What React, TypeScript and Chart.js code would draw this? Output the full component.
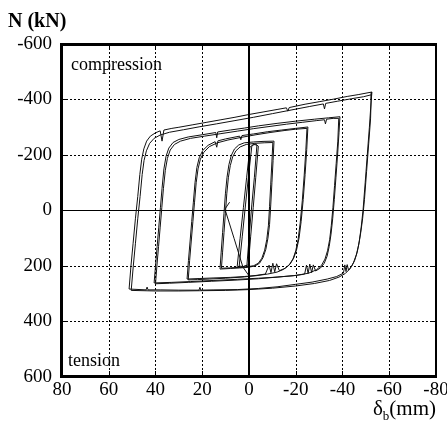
import React, { useEffect, useRef } from "react";
import { Chart, registerables } from "chart.js";

Chart.register(...registerables);

const FONT = "'Liberation Serif', 'Times New Roman', serif";

const xTickValues = [80, 60, 40, 20, 0, -20, -40, -60, -80];
const yTickValues = [-600, -400, -200, 0, 200, 400, 600];

// Largest amplitude (~52 mm), first cycle
const loop4aDisp = [51.3, 50.5, 49.6, 48.6, 47.6, 46.7, 45.9, 45.0, 43.8, 42.2, 40.0, 38.0, 37.2, 36.4, 33.0, 30.0, 24.0, 18.0, 12.0, 6.0, 0.0, -6.0, -12.0, -16.0, -16.6, -17.2, -24.0, -30.0, -36.0, -42.0, -47.0, -52.6,
  -52.3, -51.5, -50.6, -49.7, -48.8, -48.0, -47.2, -46.3, -45.2, -44.0, -42.6, -42.0, -41.5, -41.0, -40.4, -37.5, -33.5, -27.0, -20.0, -12.0, -4.0, 5.0, 15.0, 20.6, 21.0, 21.4, 30.0, 38.0, 43.2, 43.6, 44.0, 51.3];
const loop4aForce = [283, 200, 120, 30, -50, -130, -185, -222, -250, -268, -280, -287, -250, -290, -296, -300, -309, -318, -327, -336, -346, -355, -364, -370, -358, -371, -383, -392, -401, -411, -418, -427,
  -400, -300, -200, -100, -2, 60, 110, 150, 180, 200, 215, 195, 220, 196, 226, 238, 247, 258, 266, 275, 281, 285, 286, 287, 277, 287, 287, 286, 286, 276, 286, 283];

// Largest amplitude, second cycle
const loop4bDisp = [50.4, 49.5, 48.6, 47.6, 46.6, 45.7, 44.9, 43.9, 42.5, 40.6, 38.0, 34.0, 28.0, 21.0, 14.0, 6.0, -2.0, -10.0, -18.0, -26.0, -31.8, -32.3, -32.8, -38.0, -44.0, -49.0, -52.3,
  -52.0, -51.2, -50.3, -49.4, -48.6, -47.8, -46.9, -45.9, -44.7, -43.2, -41.2, -38.5, -34.5, -28.0, -20.0, -10.0, 0.0, 10.0, 20.0, 30.0, 40.0, 50.4];
const loop4bForce = [288, 200, 120, 30, -50, -130, -180, -215, -242, -260, -272, -282, -291, -302, -312, -324, -336, -349, -362, -375, -384, -366, -386, -394, -403, -410, -417,
  -330, -240, -140, -40, 30, 80, 125, 160, 188, 210, 227, 240, 252, 263, 272, 280, 285, 288, 289, 290, 290, 288];

// Amplitude ~39 mm
const loop3aDisp = [40.6, 40.0, 39.3, 38.6, 37.9, 37.2, 36.4, 35.5, 34.3, 32.5, 30.0, 26.0, 20.0, 14.2, 13.8, 13.4, 8.0, 2.0, -4.0, -12.0, -20.0, -28.0, -34.0, -38.9,
  -38.5, -37.9, -37.2, -36.5, -35.8, -35.1, -34.3, -33.4, -32.2, -30.6, -28.5, -27.5, -26.8, -26.0, -25.3, -24.6, -23.8, -22.5, -19.0, -12.0, -4.0, 5.0, 15.0, 25.0, 33.0, 40.6];
const loop3aForce = [261, 200, 130, 60, -10, -80, -150, -195, -225, -245, -256, -265, -273, -281, -262, -283, -290, -297, -305, -314, -322, -329, -334, -338,
  -280, -200, -120, -40, 30, 85, 130, 165, 190, 207, 218, 196, 224, 193, 227, 197, 229, 231, 235, 240, 244, 248, 252, 256, 259, 261];

const loop3bDisp = [40.0, 39.4, 38.7, 38.0, 37.3, 36.6, 35.8, 34.9, 33.7, 31.9, 29.3, 25.0, 19.0, 12.0, 5.0, -2.0, -9.0, -16.0, -23.0, -29.0, -32.3, -32.7, -33.2, -36.0, -38.4,
  -38.0, -37.3, -36.6, -35.9, -35.2, -34.5, -33.6, -32.5, -31.0, -28.8, -25.5, -20.0, -12.0, -4.0, 6.0, 16.0, 26.0, 34.0, 40.0];
const loop3bForce = [264, 200, 130, 60, -10, -80, -145, -188, -218, -238, -250, -260, -268, -277, -286, -295, -303, -311, -318, -324, -327, -312, -329, -332, -332,
  -250, -170, -90, -10, 55, 105, 145, 175, 198, 214, 226, 234, 240, 246, 251, 255, 259, 262, 264];

// Amplitude ~25 mm
const loop2aDisp = [26.5, 25.9, 25.2, 24.5, 23.8, 23.1, 22.3, 21.3, 19.8, 17.5, 14.5, 13.8, 13.3, 10.0, 4.0, 3.5, 3.0, -2.0, -8.0, -14.0, -20.0, -25.2,
  -24.7, -24.0, -23.2, -22.3, -21.4, -20.4, -19.2, -17.6, -15.5, -13.0, -11.8, -11.0, -10.2, -9.4, -8.6, -7.0, -3.0, 2.0, 8.0, 15.0, 21.0, 26.5];
const loop2aForce = [247, 180, 110, 40, -30, -100, -155, -190, -216, -235, -248, -228, -251, -258, -268, -255, -270, -276, -284, -290, -296, -301,
  -220, -130, -40, 40, 100, 140, 170, 193, 208, 217, 192, 221, 190, 224, 197, 229, 234, 238, 241, 243, 245, 247];

const loop2bDisp = [26.0, 25.4, 24.7, 24.0, 23.3, 22.6, 21.8, 20.8, 19.3, 17.0, 13.5, 9.0, 3.0, -3.0, -9.0, -15.0, -20.0, -24.8,
  -24.3, -23.6, -22.8, -21.9, -21.0, -20.0, -18.8, -17.1, -14.8, -12.0, -8.0, -3.0, 3.0, 10.0, 17.0, 22.0, 26.0];
const loop2bForce = [250, 180, 110, 40, -30, -100, -150, -185, -210, -230, -244, -254, -264, -273, -281, -288, -293, -296,
  -215, -125, -35, 45, 105, 145, 175, 197, 212, 222, 229, 235, 240, 244, 247, 249, 250];

// Amplitude ~12 mm
const loop1aDisp = [12.4, 11.9, 11.3, 10.7, 10.1, 9.4, 8.6, 7.6, 6.2, 4.4, 2.0, -2.0, -6.0, -10.7,
  -10.3, -9.8, -9.3, -8.8, -8.1, -7.2, -6.0, -4.5, -2.5, 0.5, 4.0, 8.0, 12.4];
const loop1aForce = [211, 150, 80, 10, -60, -120, -165, -198, -222, -236, -244, -247, -249, -250,
  -180, -100, -20, 50, 100, 140, 170, 190, 200, 205, 207, 209, 211];

const loop1bDisp = [11.8, 11.3, 10.7, 10.1, 9.5, 8.8, 8.0, 7.0, 5.6, 3.8, 1.2, -2.5, -6.5, -10.2,
  -9.8, -9.3, -8.8, -8.3, -7.6, -6.7, -5.5, -4.0, -2.0, 1.0, 4.5, 8.5, 11.8];
const loop1bForce = [208, 150, 80, 10, -60, -120, -162, -193, -215, -229, -238, -242, -244, -245,
  -175, -95, -15, 55, 105, 143, 172, 190, 199, 203, 205, 207, 208];

// Elastic cycles near the origin
const elasticADisp = [5.1, 3.8, 2.4, 1.0, -0.4, -1.8, -3.4, -2.3, -1.2, -0.1, 0.9, 3.0, 5.1];
const elasticAForce = [205, 100, -10, -120, -228, -238, -236, -120, -20, 90, 198, 204, 205];
const elasticBDisp = [4.2, 2.9, 1.5, 0.2, -1.2, -2.6, -4.0, -2.9, -1.8, -0.7, 0.3, 2.5, 4.2];
const elasticBForce = [200, 95, -20, -125, -232, -240, -232, -120, -10, 95, 196, 202, 200];

// Transition segment
const transDisp = [8.3, 10.3, 6.4, 2.6, -0.4];
const transForce = [-30, -5, 100, 204, 240];

const seriesList: [number[], number[]][] = [
  [loop4aDisp, loop4aForce],
  [loop4bDisp, loop4bForce],
  [loop3aDisp, loop3aForce],
  [loop3bDisp, loop3bForce],
  [loop2aDisp, loop2aForce],
  [loop2bDisp, loop2bForce],
  [loop1aDisp, loop1aForce],
  [loop1bDisp, loop1bForce],
  [elasticADisp, elasticAForce],
  [elasticBDisp, elasticBForce],
  [transDisp, transForce],
];

function toPoints(d: number[], f: number[]) {
  return d.map((x, i) => ({ x, y: f[i] }));
}

const snap = (p: number) => Math.round(p - 0.01);

const overlayPlugin = {
  id: "overlay",
  beforeDatasetsDraw(chart: any) {
    const { ctx, chartArea: a, scales } = chart;
    const xs = scales.x;
    const ys = scales.y;
    ctx.save();
    ctx.strokeStyle = "#000";
    ctx.lineWidth = 1;
    ctx.setLineDash([2, 2]);
    ctx.beginPath();
    for (const v of xTickValues) {
      if (v === 0 || v === 80 || v === -80) continue;
      const p = snap(xs.getPixelForValue(v)) + 0.5;
      ctx.moveTo(p, a.top);
      ctx.lineTo(p, a.bottom);
    }
    for (const v of yTickValues) {
      if (v === 0 || v === 600 || v === -600) continue;
      const p = snap(ys.getPixelForValue(v)) + 0.5;
      ctx.moveTo(a.left, p);
      ctx.lineTo(a.right, p);
    }
    ctx.stroke();
    ctx.setLineDash([]);
    ctx.fillStyle = "#000";
    const y0 = snap(ys.getPixelForValue(0));
    ctx.fillRect(a.left, y0, a.right - a.left, 1);
    ctx.restore();
  },
  afterDatasetsDraw(chart: any) {
    const { ctx, chartArea: a, scales } = chart;
    const xs = scales.x;
    const ys = scales.y;
    ctx.save();
    ctx.fillStyle = "#000";
    const x0 = Math.round(xs.getPixelForValue(0));
    ctx.fillRect(x0 - 1, a.top, 2, a.bottom - a.top);
    const L = Math.round(a.left), R = Math.round(a.right), T = Math.round(a.top), B = Math.round(a.bottom);
    ctx.fillRect(L - 2, T - 1, 3, B - T + 2);
    ctx.fillRect(L - 2, T - 1, R - L + 3, 3);
    ctx.fillRect(L - 2, B - 2, R - L + 3, 3);
    ctx.fillRect(R - 1, T - 1, 2, B - T + 2);
    for (const v of xTickValues) {
      const p = snap(xs.getPixelForValue(v));
      ctx.fillRect(p, B - 6, 1, 5);
      ctx.fillRect(p, T + 1, 1, 5);
    }
    for (const v of yTickValues) {
      const p = snap(ys.getPixelForValue(v));
      ctx.fillRect(L + 1, p, 5, 1);
      ctx.fillRect(R - 6, p, 5, 1);
    }
    ctx.textAlign = "left";
    ctx.textBaseline = "alphabetic";
    ctx.font = `bold 20px ${FONT}`;
    ctx.fillText("N (kN)", 8, 27);
    ctx.font = `18px ${FONT}`;
    ctx.fillText("compression", 71, 70);
    ctx.fillText("tension", 68, 366);
    const big = `21px ${FONT}`;
    const small = `13px ${FONT}`;
    ctx.font = big;
    const wMm = ctx.measureText("(mm)").width;
    const wD = ctx.measureText("\u03b4").width;
    ctx.font = small;
    const wB = ctx.measureText("b").width;
    let x = 436 - wMm - wB - wD;
    const base = 415;
    ctx.font = big;
    ctx.fillText("\u03b4", x, base);
    x += wD;
    ctx.font = small;
    ctx.fillText("b", x, base + 5);
    x += wB;
    ctx.font = big;
    ctx.fillText("(mm)", x, base);
    ctx.restore();
  },
};

export default function App() {
  const ref = useRef<HTMLCanvasElement>(null);
  useEffect(() => {
    if (!ref.current) return;
    const tickFont = { family: FONT, size: 19 };
    const chart = new Chart(ref.current, {
      type: "scatter",
      data: {
        datasets: seriesList.map(([d, f]) => ({
          data: toPoints(d, f),
          showLine: true,
          borderColor: "#111",
          borderWidth: 1,
          pointRadius: 0,
          pointHoverRadius: 0,
          tension: 0,
          fill: false,
        })),
      },
      options: {
        responsive: false,
        animation: false,
        devicePixelRatio: 1,
        events: [],
        layout: { padding: { left: 0, right: 11, top: 44, bottom: 0 } },
        plugins: { legend: { display: false }, tooltip: { enabled: false } },
        scales: {
          x: {
            type: "linear",
            reverse: true,
            min: -80,
            max: 80,
            grid: { display: false, drawTicks: false },
            border: { display: false },
            afterBuildTicks: (s: any) => {
              s.ticks = xTickValues.map((v) => ({ value: v }));
            },
            afterFit: (s: any) => {
              s.height = 46;
              s.paddingLeft = 0;
              s.paddingRight = 0;
            },
            ticks: {
              font: tickFont,
              color: "#000",
              padding: 2,
              autoSkip: false,
              maxRotation: 0,
              minRotation: 0,
              callback: (v: any) => String(v),
            },
          },
          y: {
            type: "linear",
            reverse: true,
            min: -600,
            max: 600,
            grid: { display: false, drawTicks: false },
            border: { display: false },
            afterBuildTicks: (s: any) => {
              s.ticks = yTickValues.map((v) => ({ value: v }));
            },
            afterFit: (s: any) => {
              s.width = 62;
              s.paddingTop = 0;
              s.paddingBottom = 0;
            },
            ticks: {
              font: tickFont,
              color: "#000",
              padding: 10,
              autoSkip: false,
              callback: (v: any) => String(v),
            },
          },
        },
      } as any,
      plugins: [overlayPlugin],
    });
    return () => chart.destroy();
  }, []);
  return (
    <div style={{ position: "fixed", left: 0, top: 0, width: 447, height: 423, background: "#fff" }}>
      <canvas ref={ref} width={447} height={423} style={{ width: 447, height: 423, display: "block" }} />
    </div>
  );
}
